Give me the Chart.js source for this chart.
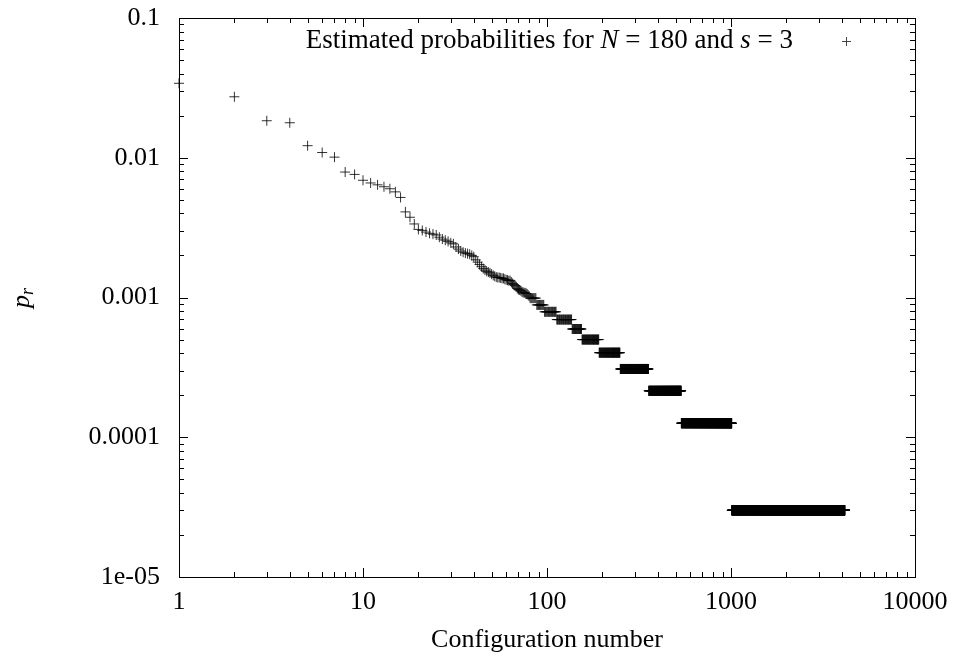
<!DOCTYPE html>
<html>
<head>
<meta charset="utf-8">
<title>Estimated probabilities</title>
<script src="https://cdn.jsdelivr.net/npm/chart.js@4.4.0/dist/chart.umd.min.js"></script>
<style>
  html, body { margin: 0; padding: 0; background: #fff; }
  #wrap { width: 956px; height: 660px; }
</style>
</head>
<body>
<div id="wrap"><canvas id="chart" width="956" height="660"></canvas></div>
<script>
const serif = "'Liberation Serif', 'Times New Roman', serif";

// probability of configurations 1..87
const earlyP = [
  0.0341, 0.0273, 0.0184, 0.0178, 0.0122, 0.0109, 0.0101, 0.0079, 0.0076, 0.0069,
  0.0066, 0.0064, 0.0062, 0.0060, 0.0057, 0.0052, 0.0041, 0.00375, 0.00336, 0.00307,
  0.00302, 0.00294, 0.00288, 0.00284, 0.00280, 0.00270, 0.00262, 0.00257, 0.00252, 0.00246,
  0.00242, 0.00230, 0.00222, 0.00215, 0.00211, 0.00208, 0.00206, 0.00204, 0.00200, 0.00196,
  0.00186, 0.00179, 0.00172, 0.00166, 0.00161, 0.00157, 0.00154, 0.00152, 0.00150, 0.00147,
  0.00144, 0.00142, 0.00140, 0.00139, 0.00139, 0.00138, 0.00137, 0.00137, 0.00135, 0.00134,
  0.00133, 0.00132, 0.00132, 0.00129, 0.00126, 0.00124, 0.00122, 0.00119, 0.00116, 0.00114,
  0.00113, 0.00112, 0.00110, 0.00109, 0.00108, 0.00108, 0.00107, 0.00106, 0.00104, 0.00102,
  0.00099, 0.00099, 0.00099, 0.00099, 0.00099, 0.00099, 0.00099
];

// runs of configurations sharing the same estimated probability
const runStart = [88, 97, 113, 137, 155, 192, 250, 357, 537, 1010];
const runEnd   = [96, 112, 136, 154, 191, 249, 356, 536, 1009, 4150];
const runP     = [8.85e-4, 7.9e-4, 6.95e-4, 5.95e-4, 5.0e-4, 4.03e-4, 3.08e-4, 2.15e-4, 1.26e-4, 3.0e-5];

const xTicks = [1, 10, 100, 1000, 10000];
const xTickLabels = ["1", "10", "100", "1000", "10000"];
const yTicks = [1e-5, 1e-4, 1e-3, 1e-2, 1e-1];
const yTickLabels = ["1e-05", "0.0001", "0.001", "0.01", "0.1"];

// build the point list
const points = earlyP.map((p, i) => ({ x: i + 1, y: p }));
runStart.forEach((s, k) => {
  for (let r = s; r <= runEnd[k]; r++) points.push({ x: r, y: runP[k] });
});

// gnuplot-like frame with inward ticks on all four sides
const framePlugin = {
  id: "frame",
  afterDraw(chart) {
    const { ctx, chartArea: a } = chart;
    const xs = chart.scales.x, ys = chart.scales.y;
    ctx.save();
    ctx.strokeStyle = "#000";
    ctx.lineWidth = 1;
    ctx.beginPath();
    for (let e = 0; e <= 4; e++) {
      for (let m = 1; m <= 9; m++) {
        const v = m * Math.pow(10, e);
        if (v > 10000) break;
        const px = Math.round(xs.getPixelForValue(v)) + 0.5;
        const len = m === 1 ? 9 : 5;
        ctx.moveTo(px, a.bottom); ctx.lineTo(px, a.bottom - len);
        ctx.moveTo(px, a.top); ctx.lineTo(px, a.top + len);
      }
    }
    for (let e = -5; e <= -1; e++) {
      for (let m = 1; m <= 9; m++) {
        const v = m * Math.pow(10, e);
        if (v > 0.1 + 1e-12) break;
        const py = Math.round(ys.getPixelForValue(v)) + 0.5;
        const len = m === 1 ? 9 : 5;
        ctx.moveTo(a.left, py); ctx.lineTo(a.left + len, py);
        ctx.moveTo(a.right, py); ctx.lineTo(a.right - len, py);
      }
    }
    ctx.stroke();
    ctx.strokeRect(Math.round(a.left) + 0.5, Math.round(a.top) + 0.5,
      Math.round(a.right - a.left), Math.round(a.bottom - a.top));

    // y axis title p_r
    ctx.fillStyle = "#000";
    ctx.translate(29, 298);
    ctx.rotate(-Math.PI / 2);
    ctx.textBaseline = "alphabetic";
    ctx.font = "italic 26px " + serif;
    const pw = ctx.measureText("p").width;
    ctx.font = "italic 18px " + serif;
    const rw = ctx.measureText("r").width;
    const x0 = -(pw + rw) / 2;
    ctx.font = "italic 26px " + serif;
    ctx.fillText("p", x0, 0);
    ctx.font = "italic 18px " + serif;
    ctx.fillText("r", x0 + pw, 4);
    ctx.restore();

    // key
    ctx.save();
    ctx.fillStyle = "#000";
    ctx.textBaseline = "alphabetic";
    const parts = [
      ["Estimated probabilities for ", false], ["N", true], [" = 180 and ", false],
      ["s", true], [" = 3", false]
    ];
    const keyFont = (it) => (it ? "italic " : "") + "27px " + serif;
    let w = 0;
    parts.forEach(([t, it]) => {
      ctx.font = keyFont(it);
      w += ctx.measureText(t).width;
    });
    let tx = 793 - w;
    parts.forEach(([t, it]) => {
      ctx.font = keyFont(it);
      ctx.fillText(t, tx, 48);
      tx += ctx.measureText(t).width;
    });
    ctx.strokeStyle = "#444";
    ctx.beginPath();
    ctx.moveTo(842, 41.5); ctx.lineTo(851, 41.5);
    ctx.moveTo(846.5, 37); ctx.lineTo(846.5, 46);
    ctx.stroke();
    ctx.restore();
  }
};

new Chart(document.getElementById("chart"), {
  type: "scatter",
  data: {
    datasets: [{
      label: "Estimated probabilities for N = 180 and s = 3",
      data: points,
      pointStyle: "cross",
      pointRadius: 5,
      pointHoverRadius: 5,
      borderColor: "rgba(0,0,0,0.8)",
      borderWidth: 1,
      clip: false
    }]
  },
  options: {
    responsive: false,
    animation: false,
    layout: { padding: { top: 18, right: 41, left: 0, bottom: 0 } },
    plugins: { legend: { display: false }, tooltip: { enabled: false } },
    scales: {
      x: {
        type: "logarithmic",
        min: 1,
        max: 10000,
        afterBuildTicks: (s) => { s.ticks = xTicks.map(v => ({ value: v })); },
        afterFit: (s) => { s.height = 83; s.paddingLeft = 0; s.paddingRight = 0; },
        grid: { display: false, drawTicks: false },
        border: { display: false },
        ticks: {
          color: "#000",
          font: { family: serif, size: 26 },
          padding: 10,
          maxRotation: 0,
          autoSkip: false,
          callback: (v) => xTickLabels[xTicks.indexOf(v)]
        },
        title: {
          display: true,
          text: "Configuration number",
          color: "#000",
          font: { family: serif, size: 26 },
          padding: { top: 0, bottom: 4 }
        }
      },
      y: {
        type: "logarithmic",
        min: 1e-5,
        max: 0.1,
        afterBuildTicks: (s) => { s.ticks = yTicks.map(v => ({ value: v })); },
        afterFit: (s) => { s.width = 179; s.paddingTop = 0; s.paddingBottom = 0; },
        grid: { display: false, drawTicks: false },
        border: { display: false },
        ticks: {
          color: "#000",
          font: { family: serif, size: 26 },
          padding: 19,
          autoSkip: false,
          callback: (v) => {
            const i = yTicks.findIndex(t => Math.abs(t - v) / t < 1e-6);
            return i >= 0 ? yTickLabels[i] : "";
          }
        }
      }
    }
  },
  plugins: [framePlugin]
});
</script>
</body>
</html>
